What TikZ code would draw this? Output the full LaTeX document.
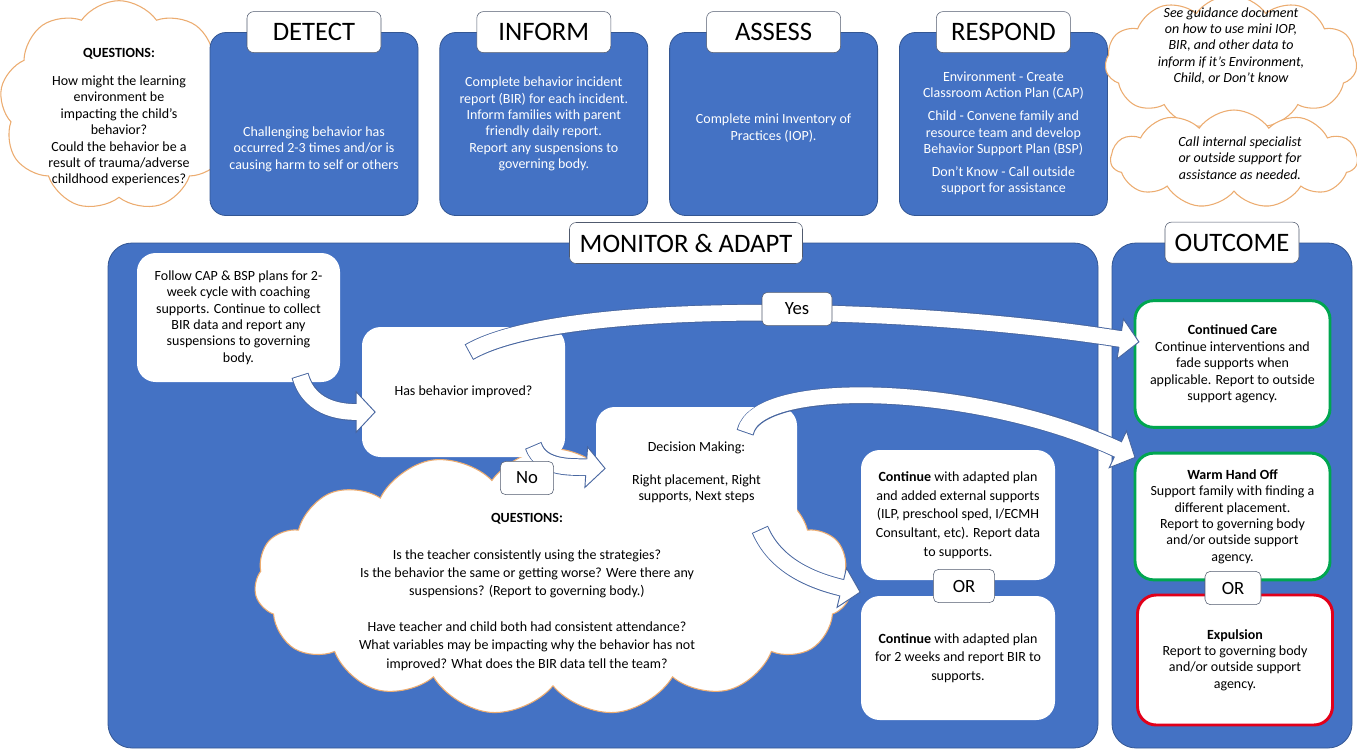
\documentclass[tikz,border=0pt]{standalone}
\usepackage{fontspec}
\setmainfont{Carlito}
\usetikzlibrary{arrows.meta,calc,positioning,shapes.symbols}
\definecolor{officeBlue}{RGB}{68,114,196}
\definecolor{titleGrey}{RGB}{80,90,110}
\definecolor{cloudOrange}{RGB}{236,172,112}
\definecolor{arrowBlue}{RGB}{72,102,160}
\definecolor{careGreen}{RGB}{0,166,80}
\definecolor{expulsionRed}{RGB}{226,0,26}
\newcommand{\blockarrow}[1]{\draw[arrowEdge] #1; \draw[arrowBody] #1;}

\begin{document}
\begin{tikzpicture}[x=0.75pt,y=-0.75pt,font=\fontsize{10.5}{12.3}\selectfont,
          stageBox/.style={
            draw=officeBlue!75!black,
            line width=0.6pt,
            fill=officeBlue,
            rounded corners=12pt,
            minimum width=156pt,
            minimum height=137.25pt},
          stageText/.style={
            text=white,
            align=center},
          titleBox/.style={
            draw=titleGrey,
            fill=white,
            rounded corners=5pt,
            minimum width=100.5pt,
            minimum height=30.75pt,
            inner sep=2pt,
            font=\fontsize{20}{24}\selectfont},
          tagBox/.style={
            draw=titleGrey,
            fill=white,
            rounded corners=4pt,
            minimum height=25pt,
            inner sep=2pt,
            font=\fontsize{14}{16}\selectfont},
          flowBox/.style={
            fill=white,
            rounded corners=14pt,
            align=center,
            minimum width=152.25pt,
            minimum height=97.5pt},
          outcomeBox/.style={
            flowBox,
            line width=2.2pt,
            minimum width=146.25pt,
            minimum height=95pt},
          thought/.style={
            cloud,
            cloud puffs=11,
            cloud puff arc=110,
            cloud ignores aspect,
            draw=cloudOrange,
            fill=white,
            line width=0.8pt,
            inner sep=0pt},
          arrowEdge/.style={
            draw=arrowBlue,
            line width=13.2pt,
            shorten <=-0.7pt,
            -{Triangle[length=15pt,width=32pt,fill=white,line width=0.7pt]}},
          arrowBody/.style={
            draw=white,
            line width=11.8pt,
            shorten >=13.5pt}]

          \useasboundingbox (0,0) rectangle (1357,751);

          \node[thought, cloud puffs=9, minimum width=179pt, minimum height=158pt] (cloudQ) at (119,106) {};
          \node[align=center] (cloudQTxt) at (119,117) {\textbf{QUESTIONS:}\\[9pt]How might the learning\\environment be\\impacting the child’s\\behavior?\\Could the behavior be a\\result of trauma/adverse\\childhood experiences?};

          \node[stageBox] (detect) at (314,124) {};
          \node[stageBox, right=15.75pt of detect] (inform) {};
          \node[stageBox, right=15.75pt of inform] (assess) {};
          \node[stageBox, right=15.75pt of assess] (respond) {};

          \node[titleBox] (detectT) at (detect.north) {DETECT};
          \node[titleBox] (informT) at (inform.north) {INFORM};
          \node[titleBox] (assessT) at (assess.north) {ASSESS};
          \node[titleBox] (respondT) at (respond.north) {RESPOND};

          \node[stageText] (detectTxt) at ([yshift=-19pt]detect.center) {Challenging behavior has\\occurred 2-3 times and/or is\\causing harm to self or others};
          \node[stageText] (informTxt) at (inform.center) {Complete behavior incident\\report (BIR) for each incident.\\Inform families with parent\\friendly daily report.\\Report any suspensions to\\governing body.};
          \node[stageText] (assessTxt) at ([yshift=-3pt]assess.center) {Complete mini Inventory of\\Practices (IOP).};
          \node[stageText] (respondTxt) at ([yshift=-7pt]respond.center) {Environment - Create\\Classroom Action Plan (CAP)\\[5pt]Child - Convene family and\\resource team and develop\\Behavior Support Plan (BSP)\\[5pt]Don’t Know - Call outside\\support for assistance};

          \node[thought, minimum width=189pt, minimum height=100pt] (cloudGuide) at (1231,62) {};
          \node[align=center, font=\fontsize{10.5}{12.3}\selectfont\itshape] (cloudGuideTxt) at (1231,46) {See guidance document\\on how to use mini IOP,\\BIR, and other data to\\inform if it’s Environment,\\Child, or Don’t know};
          \node[thought, minimum width=185pt, minimum height=73.5pt] (cloudCall) at (1234,159) {};
          \node[align=center, font=\fontsize{10.5}{12.3}\selectfont\itshape] (cloudCallTxt) at (1240,158) {Call internal specialist\\or outside support for\\assistance as needed.};

          \node[stageBox, minimum width=742.5pt, minimum height=378.75pt, rounded corners=18pt] (monitor) at (603,495.5) {};
          \node[stageBox, minimum width=180pt, minimum height=378.75pt, rounded corners=18pt] (outcome) at (1232,495.5) {};
          \node[titleBox, minimum width=174.75pt] (monitorT) at (686,243) {MONITOR \& ADAPT};
          \node[titleBox] (outcomeT) at (outcome.north) {OUTCOME};

          \node[thought, cloud puffs=15, minimum width=448pt, minimum height=200pt] (cloudNo) at (553,582) {};
          \node[align=center, font=\fontsize{10.5}{13.6}\selectfont] (cloudNoTxt) at (527,592) {\textbf{QUESTIONS:}\\[13.6pt]Is the teacher consistently using the strategies?\\Is the behavior the same or getting worse? Were there any\\suspensions? (Report to governing body.)\\[13.6pt]Have teacher and child both had consistent attendance?\\What variables may be impacting why the behavior has not\\improved? What does the BIR data tell the team?};

          \node[flowBox, minimum height=96.75pt] (follow) at (238.5,317.5) {Follow CAP \& BSP plans for 2-\\week cycle with coaching\\supports. Continue to collect\\BIR data and report any\\suspensions to governing\\body.};
          \node[flowBox] (has) at (463.5,392) {Has behavior improved?};
          \node[flowBox, minimum width=150.75pt, minimum height=98.25pt] (decision) at (696.5,472.5) {Decision Making:\\[12.3pt]Right placement, Right\\supports, Next steps};
          \node[flowBox, minimum width=145.5pt, minimum height=97.5pt, font=\fontsize{10.5}{14}\selectfont] (cont1) at (958,515) {\textbf{Continue} with adapted plan\\and added external supports\\(ILP, preschool sped, I/ECMH\\Consultant, etc). Report data\\to supports.};
          \node[flowBox, minimum width=145.5pt, minimum height=93pt, font=\fontsize{10.5}{14}\selectfont] (cont2) at (958,658) {\textbf{Continue} with adapted plan\\for 2 weeks and report BIR to\\supports.};
          \node[tagBox, minimum width=46pt] (or1) at (964,586) {OR};

          \node[outcomeBox, draw=careGreen] (care) at (1232.5,364) {\textbf{Continued Care}\\Continue interventions and\\fade supports when\\applicable. Report to outside\\support agency.};
          \node[outcomeBox, draw=careGreen] (warm) at (1232.5,516.5) {\textbf{Warm Hand Off}\\Support family with finding a\\different placement.\\Report to governing body\\and/or outside support\\agency.};
          \node[outcomeBox, draw=expulsionRed, minimum height=97.5pt] (expul) at (1235,660) {\textbf{Expulsion}\\Report to governing body\\and/or outside support\\agency.};
          \node[tagBox, minimum width=42pt] (or2) at (1233,588) {OR};

          \blockarrow{($(follow.south east)+(-40,-6)$) .. controls +(10,35) and +(-30,0) .. ($(has.west)+(14,20)$)}
          \blockarrow{($(has.north west)+(108,25)$) .. controls +(90,-52) and +(-240,-38) .. ($(care.west)+(6,-22)$)}
          \blockarrow{($(has.south)+(70,-11)$) .. controls +(8,24) and +(-30,-2) .. ($(decision.west)+(10,-4)$)}
          \blockarrow{($(decision.north east)+(-52,25)$) .. controls +(12,-55) and +(-155,-73) .. ($(warm.north west)+(2,6)$)}
          \blockarrow{($(decision.south east)+(-37,-8)$) .. controls +(15,35) and +(-50,-12) .. ($(cont1.south west)+(0,12)$)}

          \node[tagBox, minimum width=52.5pt] (yes) at (797,309) {Yes};
          \node[tagBox, minimum width=40pt] (no) at (527,478) {No};
        \end{tikzpicture}
\end{document}
